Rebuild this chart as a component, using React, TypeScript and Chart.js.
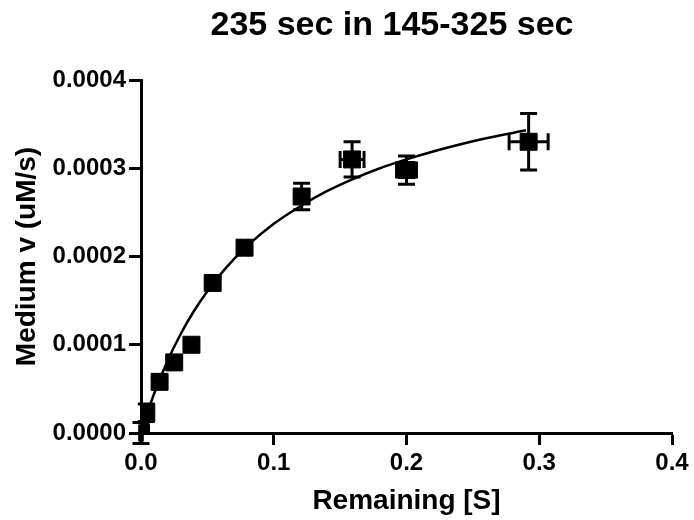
import React, { useEffect, useRef } from "react";
import { Chart, registerables } from "chart.js";

Chart.register(...registerables);

const TITLE = "235 sec in 145-325 sec";
const X_TITLE = "Remaining [S]";
const Y_TITLE = "Medium v (uM/s)";

// Measured points (substrate remaining [S], medium rate v)
const sValues = [0, 0.004, 0.014, 0.025, 0.038, 0.054, 0.078, 0.121, 0.159, 0.2, 0.292];
const vValues = [0, 0.000023, 0.000058, 0.00008, 0.0001, 0.00017, 0.00021, 0.000268, 0.00031, 0.000298, 0.00033];
const sErrors = [0.001, 0.002, 0.002, 0.002, 0.002, 0.002, 0.003, 0.004, 0.009, 0.0075, 0.0147];
const vErrors = [0.000012, 0.00001, 0.000005, 0.000005, 0.000005, 0.000006, 0.000006, 0.000015, 0.00002, 0.000016, 0.000032];

// Fitted curve
const curveS = [0, 0.005, 0.01, 0.02, 0.03, 0.04, 0.05, 0.06, 0.07, 0.08, 0.1, 0.12, 0.14, 0.16, 0.18, 0.2, 0.22, 0.24, 0.26, 0.29];
const curveV = [0, 0.0000237, 0.000045, 0.0000818, 0.0001125, 0.0001385, 0.0001607, 0.00018, 0.000197, 0.000212, 0.000237, 0.000257, 0.000274, 0.000288, 0.0003, 0.00031, 0.000319, 0.000327, 0.000334, 0.000343];

const xTicks = [0, 0.1, 0.2, 0.3, 0.4];
const yTicks = [0, 0.0001, 0.0002, 0.0003, 0.0004];

const FONT = "Arial, 'Liberation Sans', Helvetica, sans-serif";

const errorBarPlugin = {
  id: "errorBars",
  afterDatasetsDraw(chart: any) {
    const meta = chart.getDatasetMeta(1);
    const xs = chart.scales.x;
    const ys = chart.scales.y;
    const ctx = chart.ctx;
    const cap = 8.5;
    ctx.save();
    ctx.strokeStyle = "#000";
    ctx.lineWidth = 3;
    meta.data.forEach((pt: any, i: number) => {
      const cx = pt.x;
      const cy = pt.y;
      const yTop = ys.getPixelForValue(vValues[i] + vErrors[i]);
      const yBot = ys.getPixelForValue(vValues[i] - vErrors[i]);
      const xL = xs.getPixelForValue(sValues[i] - sErrors[i]);
      const xR = xs.getPixelForValue(sValues[i] + sErrors[i]);
      ctx.beginPath();
      ctx.moveTo(cx, yTop);
      ctx.lineTo(cx, yBot);
      ctx.moveTo(cx - cap, yTop);
      ctx.lineTo(cx + cap, yTop);
      ctx.moveTo(cx - cap, yBot);
      ctx.lineTo(cx + cap, yBot);
      ctx.moveTo(xL, cy);
      ctx.lineTo(xR, cy);
      ctx.moveTo(xL, cy - cap);
      ctx.lineTo(xL, cy + cap);
      ctx.moveTo(xR, cy - cap);
      ctx.lineTo(xR, cy + cap);
      ctx.stroke();
    });
    ctx.restore();
  },
};

const titlePlugin = {
  id: "customTitle",
  afterDraw(chart: any) {
    const ctx = chart.ctx;
    ctx.save();
    ctx.fillStyle = "#000";
    ctx.font = `bold 34px ${FONT}`;
    ctx.textAlign = "center";
    ctx.textBaseline = "middle";
    ctx.fillText(TITLE, 392, 26);
    ctx.restore();
  },
};

export default function App() {
  const ref = useRef<HTMLCanvasElement>(null);

  useEffect(() => {
    if (!ref.current) return;
    const chart = new Chart(ref.current, {
      type: "scatter",
      data: {
        datasets: [
          {
            label: "fit",
            data: curveS.map((s, i) => ({ x: s, y: curveV[i] })),
            showLine: true,
            borderColor: "#000",
            borderWidth: 2.5,
            pointRadius: 0,
            cubicInterpolationMode: "monotone",
            fill: false,
          },
          {
            label: "data",
            data: sValues.map((s, i) => ({ x: s, y: vValues[i] })),
            showLine: false,
            pointStyle: "rect",
            pointRadius: 12,
            pointBackgroundColor: "#000",
            pointBorderColor: "#000",
            pointBorderWidth: 1,
          },
        ],
      },
      options: {
        responsive: false,
        animation: false,
        events: [],
        layout: { padding: { left: 6, right: 22, top: 80, bottom: 0 } },
        plugins: {
          legend: { display: false },
          title: { display: false },
          tooltip: { enabled: false },
        },
        scales: {
          x: {
            type: "linear",
            min: 0,
            max: 0.4,
            afterFit: (s: any) => {
              s.height = 87;
            },
            afterBuildTicks: (s: any) => {
              s.ticks = xTicks.map((v) => ({ value: v }));
            },
            ticks: {
              color: "#000",
              font: { family: FONT, size: 24, weight: "bold" },
              padding: 4,
              maxRotation: 0,
              callback: (v: any) => Number(v).toFixed(1),
            },
            grid: {
              display: true,
              drawOnChartArea: false,
              drawTicks: true,
              tickLength: 12,
              tickWidth: 3,
              color: "#000",
            },
            border: { display: true, color: "#000", width: 3 },
            title: {
              display: true,
              text: X_TITLE,
              color: "#000",
              font: { family: FONT, size: 28, weight: "bold" },
              padding: { top: 0, bottom: 2 },
            },
          },
          y: {
            type: "linear",
            min: 0,
            max: 0.0004,
            afterFit: (s: any) => {
              s.width = 135;
              s.paddingTop = 0;
              s.paddingBottom = 0;
            },
            afterBuildTicks: (s: any) => {
              s.ticks = yTicks.map((v) => ({ value: v }));
            },
            ticks: {
              color: "#000",
              font: { family: FONT, size: 24, weight: "bold" },
              padding: 3,
              callback: (v: any) => Number(v).toFixed(4),
            },
            grid: {
              display: true,
              drawOnChartArea: false,
              drawTicks: true,
              tickLength: 12,
              tickWidth: 3,
              color: "#000",
            },
            border: { display: true, color: "#000", width: 3 },
            title: {
              display: true,
              text: Y_TITLE,
              color: "#000",
              font: { family: FONT, size: 28, weight: "bold" },
              padding: { top: 4, bottom: 4 },
            },
          },
        },
      } as any,
      plugins: [errorBarPlugin, titlePlugin],
    });
    return () => chart.destroy();
  }, []);

  return (
    <div style={{ position: "fixed", left: 0, top: 0, width: 694, height: 520, background: "#fff" }}>
      <canvas ref={ref} width={694} height={520} style={{ width: 694, height: 520, display: "block" }} />
    </div>
  );
}
